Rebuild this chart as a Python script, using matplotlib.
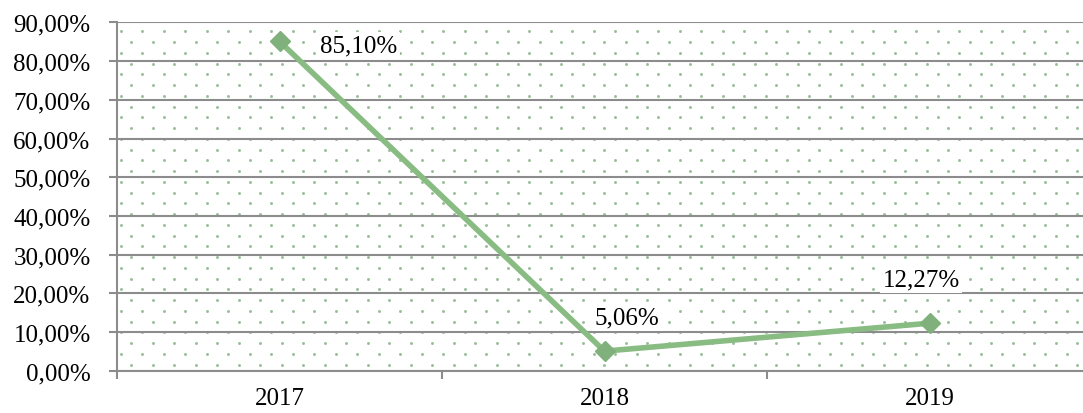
import matplotlib
matplotlib.use("Agg")
import matplotlib.pyplot as plt
import numpy as np

years = ["2017", "2018", "2019"]
values = [85.10, 5.06, 12.27]
labels = ["85,10%", "5,06%", "12,27%"]
yticks = [0, 10, 20, 30, 40, 50, 60, 70, 80, 90]
ytick_labels = ["0,00%", "10,00%", "20,00%", "30,00%", "40,00%", "50,00%",
                "60,00%", "70,00%", "80,00%", "90,00%"]

W, H = 1083, 414
fig = plt.figure(figsize=(W / 100, H / 100), dpi=100)
left_px, right_px, top_px, bot_px = 117, 1092, 23.4, 371.7
ax = fig.add_axes([left_px / W, (H - bot_px) / H, (right_px - left_px) / W, (bot_px - top_px) / H])
ax.set_xlim(-0.5, 2.5)
ax.set_ylim(0, 90)

plt.rcParams['font.family'] = ['Liberation Serif', 'DejaVu Serif']
font = dict(family=['Liberation Serif', 'DejaVu Serif'], size=18)

grid_c = '#8c8c8c'

# dotted background pattern (style only)
ax_w = right_px - left_px
ax_h = bot_px - top_px
step = 10.75
xs, ys = [], []
row = 0
ypix = 32.3
while ypix < bot_px:
    off = 120.7 if row % 2 == 0 else 131.45
    xp = off
    while xp < right_px:
        xs.append((xp - left_px) / ax_w)
        ys.append((bot_px - ypix) / ax_h)
        xp += 2 * step
    ypix += step
    row += 1
ax.scatter(xs, ys, s=4.5, color='#86b386', alpha=0.85, linewidths=0,
           transform=ax.transAxes, zorder=1, clip_on=True)

for t in yticks:
    ax.axhline(t, color=grid_c, lw=1.5, zorder=2)

xpos = np.arange(len(years))
ax.plot(xpos, values, color='#88bc82', lw=4.0, marker='D', markersize=10,
        markerfacecolor='#80b07b', markeredgecolor='#80b07b', zorder=4, clip_on=False)

offsets = [(57.2, -2.9), (16.2, 24.5), (-6.1, 31.5)]
for x, v, lab, off in zip(xpos, values, labels, offsets):
    ax.annotate(lab, (x, v), xytext=off, textcoords='offset points',
                ha='center', va='center', zorder=5,
                bbox=dict(boxstyle='square,pad=0.1', fc='white', ec='none'), **font)

ax.set_yticks(yticks)
ax.set_yticklabels(ytick_labels, **font)
ax.set_xticks(xpos)
ax.set_xticklabels(years, **font)
ax.set_xticks([-0.5, 0.5, 1.5, 2.5], minor=True)
ax.tick_params(axis='x', which='major', length=0, pad=12)
ax.tick_params(axis='x', which='minor', length=6, width=1.5, color=grid_c)
ax.tick_params(axis='y', length=6, width=1.5, color=grid_c, pad=13)

for s in ['top', 'right']:
    ax.spines[s].set_visible(False)
ax.spines['bottom'].set_color(grid_c)
ax.spines['bottom'].set_linewidth(1.5)
ax.spines['left'].set_color(grid_c)
ax.spines['left'].set_linewidth(1.5)

fig.savefig('out.png', dpi=100)
